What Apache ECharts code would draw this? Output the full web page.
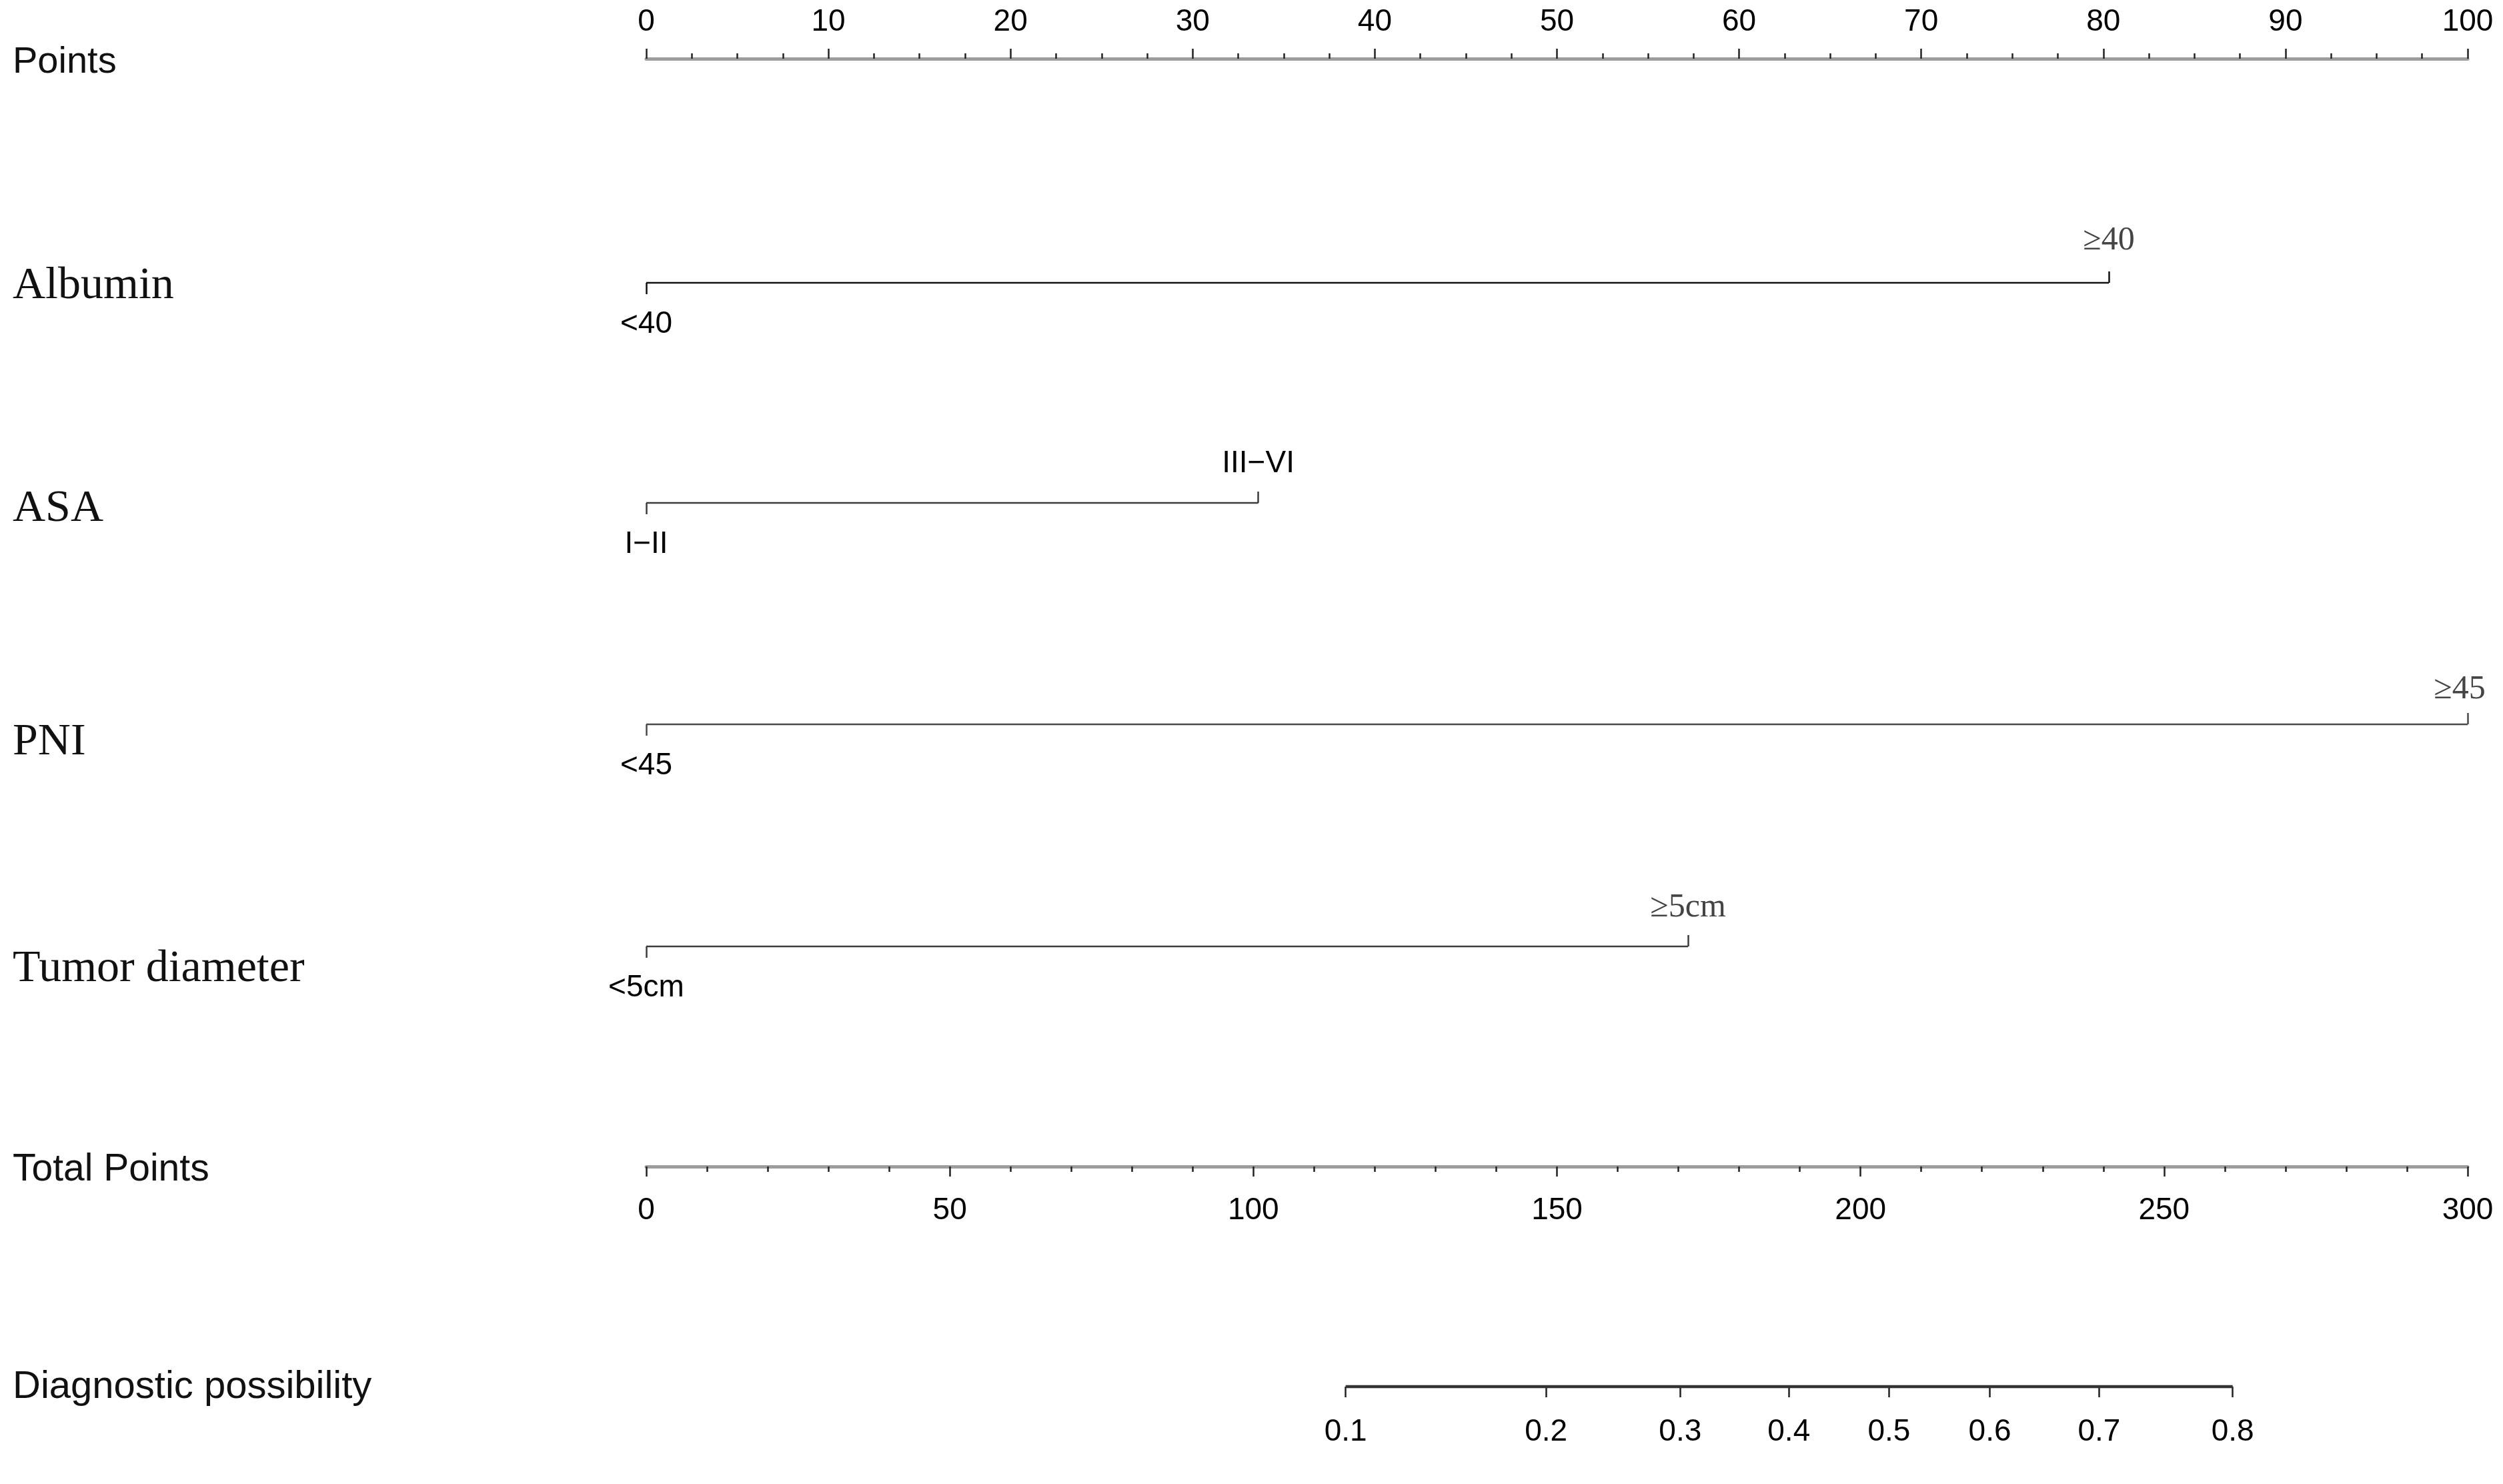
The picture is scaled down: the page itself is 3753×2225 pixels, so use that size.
<!DOCTYPE html>
<html>
<head>
<meta charset="utf-8">
<style>
  html, body { margin: 0; padding: 0; background: #ffffff; }
  #chart { width: 3753px; height: 2225px; }
</style>
<script src="https://cdn.jsdelivr.net/npm/echarts@6/dist/echarts.min.js"></script>
</head>
<body>
<div id="chart"></div>
<script>
// ---- data ----
const rowNames   = ['Albumin', 'ASA', 'PNI', 'Tumor diameter'];
const lowLabels  = ['<40', 'I\u2212II', '<45', '<5cm'];
const highLabels = ['\u226540', 'III\u2212VI', '\u226545', '\u22655cm'];
const lowPoints  = [0, 0, 0, 0];
const highPoints = [80.3, 33.6, 100, 57.2];

const pointsMin = 0, pointsMax = 100, pointsStep = 10;
const totalMin = 0, totalMax = 300, totalStep = 50;

const diagLabels = ['0.1', '0.2', '0.3', '0.4', '0.5', '0.6', '0.7', '0.8'];
const diagTotalPoints = [115.2, 148.2, 170.3, 188.2, 204.7, 221.3, 239.3, 261.3];

// ---- layout / style ----
const LEFT = 969, RIGHT = 53;
const pointsY = 88;
const rowY = [424, 754, 1086, 1419];
const rowLabelY = [429, 763, 1113, 1453];
const totalY = 1749;
const diagY = 2079;
const rowColors = ['#111111', '#3c3c3c', '#4a4a4a', '#3c3c3c'];
const SANS = "'Liberation Sans', Arial, sans-serif";
const SERIF = "'Liberation Serif', 'Times New Roman', serif";
const highIsSerif = [true, false, true, true];
const highMargin = [38, 36, 27, 33];
const highPad = [[0, 0, 0, 0], [0, 0, 0, 0], [0, 24, 0, 0], [0, 0, 0, 0]];

const grids = [], xAxes = [], yAxes = [], series = [];

function addGrid(top) {
  grids.push({ left: LEFT, right: RIGHT, top: top, height: 0, containLabel: false });
  const gi = grids.length - 1;
  yAxes.push({ gridIndex: gi, type: 'value', min: 0, max: 1, show: false });
  return gi;
}

// Points axis (top)
const gP = addGrid(pointsY);
xAxes.push({
  gridIndex: gP, type: 'value', position: 'top', min: pointsMin, max: pointsMax, interval: pointsStep,
  axisLine: { show: true, lineStyle: { color: '#9c9c9c', width: 5 } },
  axisTick: { show: true, length: 15, lineStyle: { color: '#222', width: 2.5 } },
  minorTick: { show: true, splitNumber: 4, length: 8, lineStyle: { color: '#222', width: 2.5 } },
  axisLabel: { margin: 32, fontSize: 46, color: '#000', fontFamily: SANS },
  splitLine: { show: false }, minorSplitLine: { show: false }
});
series.push({ type: 'line', xAxisIndex: xAxes.length - 1, yAxisIndex: gP, data: [], silent: true });

// variable rows
rowNames.forEach((name, i) => {
  const g = addGrid(rowY[i]);
  xAxes.push({
    gridIndex: g, type: 'value', position: 'bottom', min: pointsMin, max: pointsMax,
    axisLine: { show: false },
    axisTick: { show: true, length: 17, customValues: [lowPoints[i]], lineStyle: { color: rowColors[i], width: 2.5 } },
    axisLabel: { show: true, customValues: [lowPoints[i]], margin: 39, fontSize: 46, color: '#000', fontFamily: SANS,
                 formatter: () => lowLabels[i] },
    splitLine: { show: false }
  });
  const lowIdx = xAxes.length - 1;
  xAxes.push({
    gridIndex: g, type: 'value', position: 'top', min: pointsMin, max: pointsMax,
    axisLine: { show: false },
    axisTick: { show: true, length: 17, customValues: [highPoints[i]], lineStyle: { color: rowColors[i], width: 2.5 } },
    axisLabel: { show: true, customValues: [highPoints[i]], margin: highMargin[i],
                 fontSize: highIsSerif[i] ? 50 : 46,
                 color: highIsSerif[i] ? '#444' : '#000',
                 fontFamily: highIsSerif[i] ? SERIF : SANS,
                 padding: highPad[i],
                 formatter: () => highLabels[i] },
    splitLine: { show: false }
  });
  series.push({
    type: 'line', xAxisIndex: lowIdx, yAxisIndex: g, silent: true, symbol: 'none', animation: false,
    lineStyle: { color: rowColors[i], width: 3 },
    data: [[lowPoints[i], 0], [highPoints[i], 0]]
  });
});

// Total points axis (bottom)
const gT = addGrid(totalY);
xAxes.push({
  gridIndex: gT, type: 'value', position: 'bottom', min: totalMin, max: totalMax, interval: totalStep,
  axisLine: { show: true, lineStyle: { color: '#9c9c9c', width: 5 } },
  axisTick: { show: true, length: 15, lineStyle: { color: '#222', width: 2.5 } },
  minorTick: { show: true, splitNumber: 5, length: 8, lineStyle: { color: '#222', width: 2.5 } },
  axisLabel: { margin: 43, fontSize: 46, color: '#000', fontFamily: SANS },
  splitLine: { show: false }, minorSplitLine: { show: false }
});
series.push({ type: 'line', xAxisIndex: xAxes.length - 1, yAxisIndex: gT, data: [], silent: true });

// Diagnostic possibility axis (on total-points scale)
const gD = addGrid(diagY);
xAxes.push({
  gridIndex: gD, type: 'value', position: 'bottom', min: totalMin, max: totalMax,
  axisLine: { show: false },
  axisTick: { show: true, length: 16, customValues: diagTotalPoints, lineStyle: { color: '#222', width: 2.5 } },
  axisLabel: { show: true, customValues: diagTotalPoints, margin: 45, fontSize: 46, color: '#000', fontFamily: SANS,
               formatter: (v) => {
                 let best = 0;
                 diagTotalPoints.forEach((p, k) => { if (Math.abs(p - v) < Math.abs(diagTotalPoints[best] - v)) best = k; });
                 return diagLabels[best];
               } },
  splitLine: { show: false }
});
series.push({
  type: 'line', xAxisIndex: xAxes.length - 1, yAxisIndex: gD, silent: true, symbol: 'none', animation: false,
  lineStyle: { color: '#333', width: 5 },
  data: [[diagTotalPoints[0], 0], [diagTotalPoints[diagTotalPoints.length - 1], 0]]
});

// left-hand labels
const graphics = [];
function leftLabel(text, y, font) {
  graphics.push({ type: 'text', x: 19, y: y, silent: true,
    style: { text: text, font: font, fill: '#111', verticalAlign: 'middle', align: 'left' } });
}
leftLabel('Points', pointsY + 6, "56px " + SANS);
rowNames.forEach((n, i) => leftLabel(n, rowLabelY[i], "68px " + SERIF));
leftLabel('Total Points', totalY + 5, "57px " + SANS);
leftLabel('Diagnostic possibility', diagY + 1, "58px " + SANS);

const chart = echarts.init(document.getElementById('chart'), null, { renderer: 'canvas' });
chart.setOption({
  backgroundColor: '#ffffff',
  animation: false,
  grid: grids,
  xAxis: xAxes,
  yAxis: yAxes,
  series: series,
  graphic: graphics
});
</script>
</body>
</html>
